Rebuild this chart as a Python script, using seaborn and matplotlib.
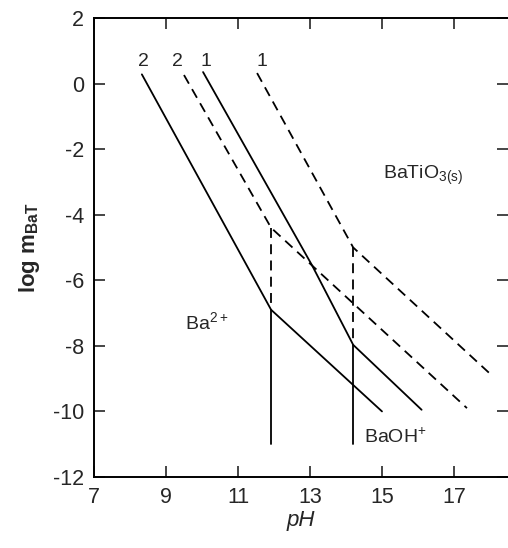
import numpy as np
import pandas as pd
import seaborn as sns
import matplotlib
matplotlib.use("Agg")
import matplotlib.pyplot as plt

# solubility curves (pH, log m_BaT)
ph_solid2 = [8.33, 11.92, 15.0]
log_solid2 = [0.28, -6.9, -10.0]
ph_solid1 = [10.03, 13.06, 14.2, 16.1]
log_solid1 = [0.35, -5.55, -7.97, -9.95]
ph_dash2 = [9.5, 11.92, 17.36]
log_dash2 = [0.26, -4.4, -9.9]
ph_dash1 = [11.53, 14.2, 18.0]
log_dash1 = [0.32, -5.0, -8.85]

# boundaries between Ba2+ and BaOH+ regions
ph_vert = [11.92, 14.2]
log_vert_dash_top = [-4.4, -5.0]
log_vert_mid = [-6.9, -7.97]
log_vert_bottom = [-11.0, -11.0]

curve_labels = ["2", "2", "1", "1"]
curve_label_ph = [8.36, 9.33, 10.11, 11.67]
curve_label_log = 0.66

xticks = [7, 9, 11, 13, 15, 17]
yticks = [-12, -10, -8, -6, -4, -2, 0, 2]

sns.set_style("ticks")
plt.rcParams["font.family"] = ["Liberation Sans", "DejaVu Sans"]
plt.rcParams["axes.unicode_minus"] = False
plt.rcParams["mathtext.default"] = "regular"

fig = plt.figure(figsize=(5.08, 5.48), dpi=100)
ax = fig.add_axes([0.185, 0.1296, 0.815, 0.8376])

def seg(x, y, dashed=False):
    df = pd.DataFrame({"pH": x, "logm": y})
    ls = (0, (5.5, 3.5)) if dashed else "-"
    sns.lineplot(data=df, x="pH", y="logm", sort=False, estimator=None, ax=ax,
                 color="black", lw=1.3, linestyle=ls)

seg(ph_solid2, log_solid2)
seg(ph_solid1, log_solid1)
seg(ph_dash2, log_dash2, dashed=True)
seg(ph_dash1, log_dash1, dashed=True)
for i in range(len(ph_vert)):
    seg([ph_vert[i], ph_vert[i]], [log_vert_dash_top[i], log_vert_mid[i]], dashed=True)
    seg([ph_vert[i], ph_vert[i]], [log_vert_mid[i], log_vert_bottom[i]])

for lab, x in zip(curve_labels, curve_label_ph):
    ax.text(x, curve_label_log, lab, ha="center", va="center", fontsize=14)

ax.text(15.03, -2.8, r"BaTiO$_{3(s)}$", ha="left", va="center", fontsize=14)
ax.text(9.53, -7.27, r"Ba$^{2+}$", ha="left", va="center", fontsize=14)
ax.text(14.5, -10.77, r"BaOH$^{+}$", ha="left", va="center", fontsize=14)

ax.set_xlim(7, 18.5)
ax.set_ylim(-12, 2)
ax.set_xticks(xticks)
ax.set_yticks(yticks)
ax.tick_params(direction="in", length=8, width=1.2, labelsize=15.5,
               top=True, right=True, pad=7)
ax.spines["right"].set_visible(False)
for s in ["left", "bottom", "top"]:
    ax.spines[s].set_linewidth(1.4)
    ax.spines[s].set_color("black")

ax.set_xlabel("pH", fontsize=16, style="italic", labelpad=2)
ax.set_ylabel(r"log m$_{\mathregular{BaT}}$", fontsize=16, fontweight="bold", labelpad=8)

fig.savefig("out.png", dpi=100)
